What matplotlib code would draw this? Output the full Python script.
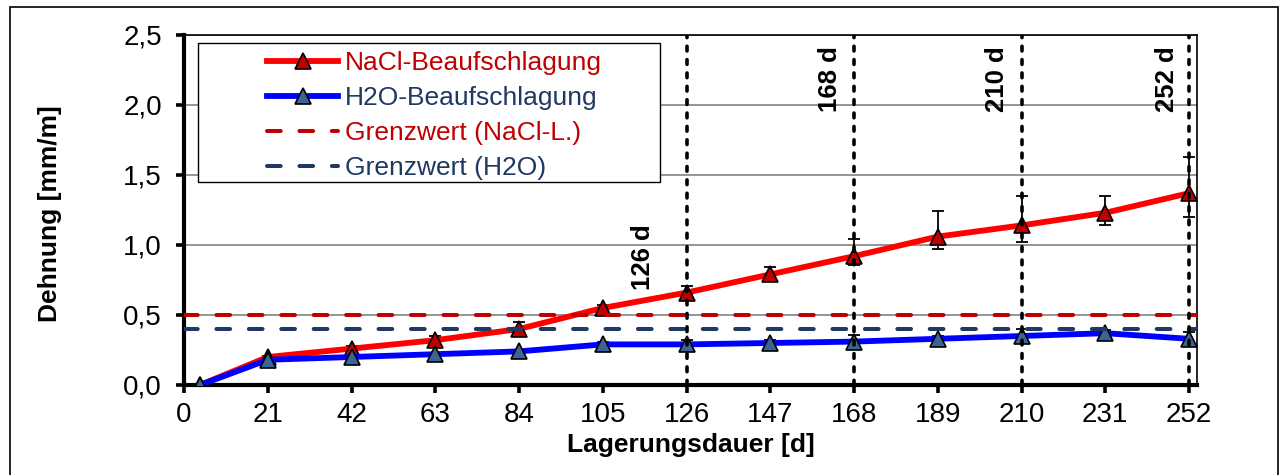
import matplotlib
matplotlib.use('Agg')
import matplotlib.pyplot as plt
from matplotlib.lines import Line2D
from matplotlib.patches import Rectangle
import numpy as np

plt.rcParams['font.family'] = ['Liberation Sans', 'DejaVu Sans']

# storage time in days and measured strain [mm/m]
days = [4, 21, 42, 63, 84, 105, 126, 147, 168, 189, 210, 231, 252]
nacl = [0.0, 0.20, 0.26, 0.32, 0.40, 0.55, 0.66, 0.79, 0.92, 1.06, 1.14, 1.23, 1.37]
nacl_err_lo = [0.0, 0.01, 0.02, 0.02, 0.02, 0.02, 0.02, 0.03, 0.06, 0.09, 0.12, 0.09, 0.17]
nacl_err_hi = [0.0, 0.01, 0.02, 0.03, 0.05, 0.02, 0.05, 0.05, 0.12, 0.18, 0.21, 0.12, 0.26]
h2o = [0.0, 0.18, 0.20, 0.22, 0.24, 0.29, 0.29, 0.30, 0.31, 0.33, 0.35, 0.37, 0.33]
h2o_err = [0.0, 0.01, 0.01, 0.01, 0.01, 0.02, 0.03, 0.02, 0.05, 0.02, 0.05, 0.02, 0.05]

limit_nacl = 0.5
limit_h2o = 0.4
check_days = [126, 168, 210, 252]
check_labels = ['126 d', '168 d', '210 d', '252 d']

RED = '#FF0000'
DARKRED = '#C00000'
BLUE = '#0000FF'
NAVY = '#1F3864'
STEEL = '#3A6596'

fig = plt.figure(figsize=(12.83, 4.75), dpi=100)
ax = fig.add_axes([184 / 1283, 1 - 385 / 475, 1013 / 1283, 350 / 475])

# outer frame around the whole chart
fig.patches.append(Rectangle((10 / 1283, -0.02), 1268 / 1283, 1 - 7 / 475 + 0.02,
                             transform=fig.transFigure, fill=False,
                             edgecolor='black', lw=1.2))

ax.yaxis.grid(True, color='#8c8c8c', lw=1.3, zorder=0)
ax.set_axisbelow(True)

ax.errorbar(days, nacl, yerr=[nacl_err_lo, nacl_err_hi], fmt='none',
            ecolor='black', elinewidth=1.3, capsize=4, capthick=1.3, zorder=3)
ax.errorbar(days, h2o, yerr=h2o_err, fmt='none',
            ecolor='black', elinewidth=1.3, capsize=4, capthick=1.3, zorder=3)
ax.plot(days, nacl, color=RED, lw=4.2, marker='^', ms=11,
        mfc=DARKRED, mec='black', mew=1.2, zorder=4)
ax.plot(days, h2o, color=BLUE, lw=4.2, marker='^', ms=11,
        mfc=STEEL, mec='black', mew=1.2, zorder=5)

limit_dash = (3.4, 4.65)
ax.axhline(limit_nacl, color=DARKRED, lw=2.9, dashes=limit_dash,
           dash_capstyle='round', zorder=6)
ax.axhline(limit_h2o, color=NAVY, lw=2.9, dashes=limit_dash,
           dash_capstyle='round', zorder=6)

for d in check_days:
    ax.axvline(d, color='black', lw=2.6, dashes=(1.3, 2.4),
               dash_capstyle='round', zorder=7)

# day labels next to the vertical markers
ax.annotate(check_labels[0], xy=(check_days[0], 0.68), xytext=(-31, 0),
            textcoords='offset points', rotation=90, ha='center', va='bottom',
            fontsize=18.5, fontweight='bold')
for d, lab, off in zip(check_days[1:], check_labels[1:], [-17, -18, -16]):
    ax.annotate(lab, xy=(d, 2.42), xytext=(off, 0), textcoords='offset points',
                rotation=90, ha='center', va='top', fontsize=18.5, fontweight='bold')

ax.set_xlim(0, 254)
ax.set_ylim(0, 2.5)
ax.set_xticks(range(0, 253, 21))
ax.set_yticks(np.arange(0, 2.51, 0.5))
ax.set_yticklabels([f'{v:.1f}'.replace('.', ',') for v in np.arange(0, 2.51, 0.5)])
ax.tick_params(axis='both', labelsize=20, width=2.6, length=6, color='black')
ax.tick_params(axis='y', pad=10)
ax.tick_params(axis='x', pad=6)

ax.spines['left'].set_linewidth(3)
ax.spines['bottom'].set_linewidth(3)
ax.spines['top'].set_linewidth(1.2)
ax.spines['right'].set_linewidth(1.2)

ax.set_xlabel('Lagerungsdauer [d]', fontsize=19, fontweight='bold', labelpad=4)
ax.set_ylabel('Dehnung [mm/m]', fontsize=19, fontweight='bold')
ax.yaxis.set_label_coords(-0.12, 0.49)

# legend: separate white box, entries without frame
ax.add_patch(Rectangle((14 / 1013, 203 / 350), 462 / 1013, 139 / 350,
                       transform=ax.transAxes, facecolor='white',
                       edgecolor='black', lw=1.0, zorder=8))
handles = [
    Line2D([], [], color=RED, lw=4.2, marker='^', ms=11, mfc=DARKRED, mec='black', mew=1.2),
    Line2D([], [], color=BLUE, lw=4.2, marker='^', ms=11, mfc=STEEL, mec='black', mew=1.2),
    Line2D([], [], color=DARKRED, lw=2.9, dashes=limit_dash, dash_capstyle='round'),
    Line2D([], [], color=NAVY, lw=2.9, dashes=limit_dash, dash_capstyle='round'),
]
labels = ['NaCl-Beaufschlagung', 'H2O-Beaufschlagung', 'Grenzwert (NaCl-L.)', 'Grenzwert (H2O)']
leg = ax.legend(handles, labels, loc='upper left',
                bbox_to_anchor=(83 / 1013, 334 / 350), frameon=False,
                fontsize=19, handlelength=2.7, handletextpad=0.25,
                labelspacing=0.42, borderpad=0, borderaxespad=0)
leg.set_zorder(9)
for txt, col in zip(leg.get_texts(), [DARKRED, NAVY, DARKRED, NAVY]):
    txt.set_color(col)

fig.savefig('out.png', dpi=100)
